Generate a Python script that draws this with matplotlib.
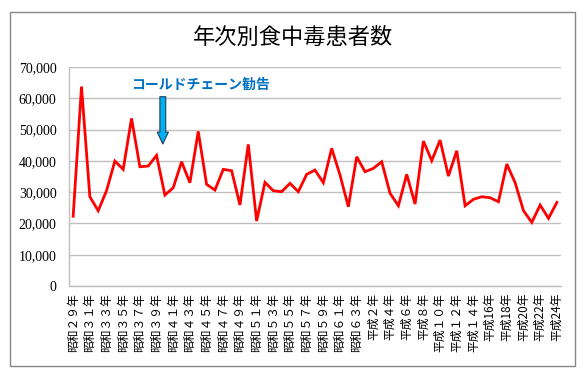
# 年次別食中毒患者数 (food poisoning patients by year)
import matplotlib
matplotlib.use('Agg')
import matplotlib.pyplot as plt
from matplotlib.patches import Rectangle
from matplotlib.ticker import FuncFormatter

plt.rcParams['font.family'] = ['Noto Sans CJK JP', 'DejaVu Sans']

# data (昭和29年 .. 平成24年, one value per year)
patients = [22300, 63745, 28530, 24060, 30450, 39940, 37280, 53580, 38120, 38340,
            41750, 29070, 31400, 39720, 33010, 49420, 32480, 30670, 37280, 36850,
            25880, 45270, 20770, 33120, 30450, 30140, 32800, 30140, 35680, 37060,
            33010, 43990, 35460, 25340, 41310, 36520, 37600, 39720, 29620, 25660,
            35680, 26200, 46330, 40040, 46650, 35140, 43230, 25660, 27700, 28530,
            28210, 26930, 38980, 33010, 24060, 20350, 25880, 21630, 26700]

# every other year gets a label
year_labels = ['昭和２９年', '昭和３１年', '昭和３３年', '昭和３５年', '昭和３７年',
               '昭和３９年', '昭和４１年', '昭和４３年', '昭和４５年', '昭和４７年',
               '昭和４９年', '昭和５１年', '昭和５３年', '昭和５５年', '昭和５７年',
               '昭和５９年', '昭和６１年', '昭和６３年', '平成２年', '平成４年',
               '平成６年', '平成８年', '平成１０年', '平成１２年', '平成１４年',
               '平成16年', '平成18年', '平成20年', '平成22年', '平成24年']

y_ticks = [0, 10000, 20000, 30000, 40000, 50000, 60000, 70000]

grey = '#BFBFBF'
blue_text = '#0070C0'

fig = plt.figure(figsize=(5.87, 3.74), dpi=100)

# outer chart border
fig.patches.append(Rectangle((10 / 587, 1 - 366 / 374), 565 / 587, 354 / 374,
                             transform=fig.transFigure, fill=False,
                             ec='#888888', lw=1.0))

ax = fig.add_axes([69 / 587, 1 - 286 / 374, 492 / 587, 219 / 374])

xs = list(range(len(patients)))
ax.plot(xs, patients, color='#FF0000', lw=2.0, solid_joinstyle='miter')

ax.set_xlim(-0.5, len(patients) - 0.5)
ax.set_ylim(0, 70000)

ax.set_yticks(y_ticks)
ax.yaxis.set_major_formatter(FuncFormatter(lambda v, p: f'{int(v):,}'))
for lab in ax.get_yticklabels():
    lab.set_fontfamily('Liberation Serif')
    lab.set_fontsize(10)
ax.tick_params(axis='y', length=0, pad=9)

ax.set_xticks(xs[::2])
ax.set_xticklabels(year_labels, rotation=90, fontsize=8.5)
ax.tick_params(axis='x', length=0, pad=5)

ax.grid(axis='y', color=grey, lw=1.0)
ax.set_axisbelow(True)
for side in ['top', 'right']:
    ax.spines[side].set_visible(False)
for side in ['left', 'bottom']:
    ax.spines[side].set_color(grey)
    ax.spines[side].set_linewidth(1.0)

# cold chain recommendation arrow and note
ax.annotate('', xy=(10.75, 45400), xytext=(10.75, 60500),
            arrowprops=dict(arrowstyle='simple,head_width=0.8,head_length=0.85,tail_width=0.42',
                            mutation_scale=10, fc='#00B0F0', ec='#1F3F5F', lw=0.8,
                            shrinkA=0, shrinkB=0))
ax.text(15.2, 64200, 'コールドチェーン勧告', color=blue_text, fontsize=10,
        fontweight='bold', ha='center', va='center')

fig.text(0.5, 1 - 37 / 374, '年次別食中毒患者数', fontsize=16,
         ha='center', va='center')

fig.savefig('out.png', dpi=100)
